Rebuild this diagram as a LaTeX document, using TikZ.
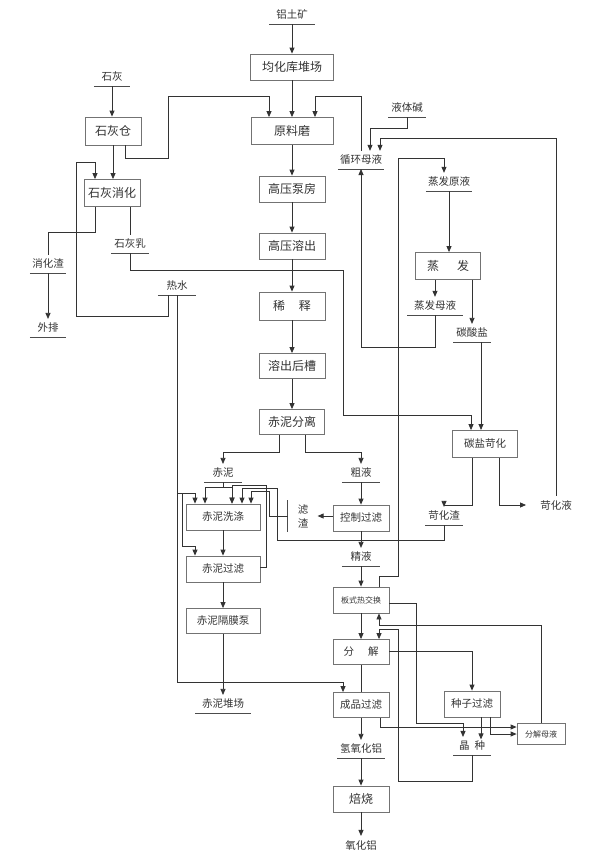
\documentclass[tikz,border=0pt]{standalone}
\usepackage{fontspec}
\setmainfont{Noto Sans CJK SC}
\usetikzlibrary{arrows.meta}

\begin{document}
\begin{tikzpicture}[x=1pt,y=-1pt,
  box/.style={draw=black!55, line width=0.8pt, minimum height=26pt, inner sep=0pt,
    font=\fontsize{12}{12}\selectfont, text=black!80},
  sbox/.style={box, font=\fontsize{10.5}{10.5}\selectfont},
  tbox/.style={box, font=\fontsize{8}{8}\selectfont},
  lbl/.style={anchor=south, inner xsep=2pt, inner ysep=4pt,
    font=\fontsize{10.5}{10.5}\selectfont, text=black!80},
  uline/.style={draw=black!70, line width=0.8pt},
  line/.style={draw=black!80, line width=0.8pt},
  arr/.style={line, -{Triangle[length=6pt,width=5pt]}}]

\useasboundingbox (0,0) rectangle (600,854);

% main column
\node[lbl, minimum width=45pt] (bauxite) at (292,24) {铝土矿};
\node[box, minimum width=83pt] (homo) at (292,67) {均化库堆场};
\node[box, minimum width=82pt, minimum height=27pt] (mill) at (292,131) {原料磨};
\node[box, minimum width=66pt] (pump) at (292,189) {高压泵房};
\node[box, minimum width=66pt] (digest) at (292,246) {高压溶出};
\node[box, minimum width=66pt, minimum height=28pt] (dilute) at (292,306) {稀\hspace{14pt}释};
\node[box, minimum width=66pt, minimum height=25pt] (tank) at (292,366) {溶出后槽};
\node[box, minimum width=65pt, minimum height=25pt] (sep) at (292,422) {赤泥分离};

% lime
\node[lbl, minimum width=36pt] (lime) at (112,86) {石灰};
\node[box, minimum width=56pt, minimum height=28pt] (limebin) at (113,131) {石灰仓};
\node[box, minimum width=56pt, minimum height=27pt] (slaker) at (112,193) {石灰消化};
\node[lbl, minimum width=36pt] (slag) at (48,273) {消化渣};
\node[lbl, minimum width=36pt] (waste) at (48,337) {外排};
\node[lbl, minimum width=37pt] (limemilk) at (130,253) {石灰乳};
\node[lbl, minimum width=38pt] (hotwater) at (177,295) {热水};

% evaporation
\node[lbl, minimum width=37pt] (liqsoda) at (407,117) {液体碱};
\node[lbl, minimum width=45pt] (circ) at (361,169) {循环母液};
\node[lbl, minimum width=46pt] (evapfeed) at (449,191) {蒸发原液};
\node[box, minimum width=65pt, minimum height=27pt] (evap) at (448,266) {蒸\hspace{18pt}发};
\node[lbl, minimum width=55pt] (evapmother) at (435,315) {蒸发母液};
\node[lbl, minimum width=37pt] (carbonate) at (472,342) {碳酸盐};
\node[sbox, minimum width=65pt, minimum height=27pt] (caust) at (485,444) {碳盐苛化};
\node[lbl, minimum width=37pt] (causres) at (444,525) {苛化渣};
\node[lbl, anchor=center, inner xsep=14pt] (causliq) at (556,505) {苛化液};

% red mud
\node[lbl, minimum width=37pt] (redmud) at (223,482) {赤泥};
\node[lbl, minimum width=38pt] (crude) at (361,482) {粗液};
\node[sbox, minimum width=74pt] (wash) at (223,517) {赤泥洗涤};
\node[sbox, minimum width=74pt] (mudfilt) at (223,569) {赤泥过滤};
\node[sbox, minimum width=74pt, minimum height=25pt] (diaph) at (223,621) {赤泥隔膜泵};
\node[lbl, minimum width=55pt] (mudyard) at (223,713) {赤泥堆场};
\node[sbox, minimum width=56pt] (ctrl) at (361,518) {控制过滤};
\node[lbl, anchor=center, minimum width=30pt, minimum height=22pt, align=center,
  font=\fontsize{10.5}{14}\selectfont] (filtres) at (303,516) {滤\\渣};
\node[lbl, minimum width=38pt] (fine) at (361,566) {精液};

% decomposition
\node[tbox, minimum width=56pt] (phe) at (361,600) {板式热交换};
\node[sbox, minimum width=56pt, minimum height=25pt] (decomp) at (361,652) {分\hspace{14pt}解};
\node[sbox, minimum width=56pt, minimum height=25pt] (prodfilt) at (361,705) {成品过滤};
\node[lbl, minimum width=47pt] (hydrate) at (361,758) {氢氧化铝};
\node[box, minimum width=56pt] (calcine) at (361,799) {焙烧};
\node[lbl, anchor=center] (alumina) at (361,845) {氧化铝};
\node[sbox, minimum width=56pt] (seedfilt) at (472,704) {种子过滤};
\node[lbl, minimum width=37pt] (seed) at (472,755) {晶\hspace{5pt}种};
\node[tbox, minimum width=48pt, minimum height=21pt] (spent) at (541,734) {分解母液};

\foreach \n in {bauxite, lime, slag, waste, limemilk, hotwater, liqsoda, circ, evapfeed,
  evapmother, carbonate, causres, redmud, crude, fine, mudyard, hydrate, seed}
  \draw[uline] (\n.south west) -- (\n.south east);
\draw[uline] (filtres.north west) -- (filtres.south west);

% main flow
\foreach \a/\b in {bauxite/homo, homo/mill, mill/pump, pump/digest, digest/dilute, dilute/tank, tank/sep}
  \draw[arr] (\a.south) -- (\b.north);

% lime lines
\draw[arr] (lime.south) -- (lime.south |- limebin.north);
\draw[arr] (limebin.south) -- (limebin.south |- slaker.north);
\draw[arr] ([xshift=12pt]limebin.south) -- ++(0,13) -| (168,96) -| ([xshift=-23pt]mill.north);
\draw[line] ([xshift=18pt]slaker.south) -- (limemilk.north);
\draw[line] ([xshift=-17pt]slaker.south) -- ++(0,25) -| (slag.north);
\draw[arr] (slag.south) -- (waste.north);
\draw[arr] ([xshift=-9pt]hotwater.south) -- ++(0,21) -| (76,162) -| ([xshift=-17pt]slaker.north);
\draw[arr] (limemilk.south) -- ++(0,17) -| (343,415) -| ([xshift=-14pt]caust.north);

% hot water
\coordinate (hwa) at (177,493);
\coordinate (hwb) at (182,493);
\draw[arr] (hotwater.south) -- ++(0,387) -| ([xshift=-18pt]prodfilt.north);
\draw[arr] (hwa) -| ([xshift=-28pt]wash.north);
\draw[arr] (hwb) -- ++(0,53) -| ([xshift=-28pt]mudfilt.north);

% red mud washing
\draw[arr] ([xshift=-13pt]sep.south) -- ++(0,17) -| (redmud.north);
\draw[arr] ([xshift=13pt]sep.south) -- ++(0,17) -| (crude.north);
\draw[arr] (redmud.south) -- ++(0,5) -| ([xshift=-18pt]wash.north);
\draw[arr] (redmud.south) -- ++(0,5) -| ([xshift=9pt]wash.north);
\draw[arr] ([yshift=2pt]mudfilt.east) -- ++(6,0) |- ([xshift=9pt]wash.north |- 0,485) -- ([xshift=9pt]wash.north);
\draw[arr] (causres.south) -- ++(0,15) -| (277,488) -| ([xshift=19pt]wash.north);
\draw[arr] (filtres.west) -- ++(-18,0) |- ([xshift=28pt]wash.north |- 0,491) -- ([xshift=28pt]wash.north);
\draw[arr] ([yshift=2pt]ctrl.west) -- ++(-15,0);
\draw[arr] (crude.south) -- (ctrl.north);
\draw[arr] (ctrl.south) -- (fine.north);
\draw[arr] (fine.south) -- (phe.north);
\draw[arr] (wash.south) -- (mudfilt.north);
\draw[arr] (mudfilt.south) -- (diaph.north);
\draw[arr] (diaph.south) -- (mudyard.north);

% liquor circuit
\draw[arr] (liqsoda.south) -- ++(0,11) -| ([xshift=9pt]circ.north);
\draw[arr] (circ.north) -- (circ.north |- 0,96) -| ([xshift=23pt]mill.north);
\draw[arr] (causliq.north) -- (causliq.north |- 0,138) -| ([xshift=19pt]circ.north);
\draw[arr] (evapmother.south) -- ++(0,32) -| (circ.south);
\draw[arr] ([xshift=18pt]phe.north) -- ++(0,-10) -| (398,158) -| ([xshift=-5pt]evapfeed.north);
\draw[arr] (evapfeed.south) -- (evapfeed.south |- evap.north);
\draw[arr] (evap.south -| evapmother.north) -- (evapmother.north);
\draw[arr] (evap.south -| carbonate.north) -- (carbonate.north);
\draw[arr] ([xshift=9pt]carbonate.south) -- ++(0,88);
\draw[arr] ([xshift=-13pt]caust.south) -- ++(0,47) -| (causres.north);
\draw[arr] ([xshift=14pt]caust.south) |- (causliq.west);

% decomposition lines
\draw[arr] (phe.south) -- (decomp.north);
\draw[arr] (spent.north) -- (spent.north |- 0,625) -| ([xshift=18pt]phe.south);
\draw[arr] (seed.south) -- ++(0,26) -| (398,629) -| ([xshift=18pt]decomp.north);
\draw[arr] ([yshift=1pt]decomp.east) -| (seedfilt.north);
\draw[line] (decomp.south) -- (prodfilt.north);
\draw[arr] (prodfilt.south) -- (hydrate.north);
\draw[arr] (hydrate.south) -- (calcine.north);
\draw[arr] (calcine.south) -- (alumina.north);
\draw[arr] ([yshift=-3pt]phe.east) -| (416,723) -| ([xshift=-9pt]seed.north);
\draw[arr] ([xshift=19pt]prodfilt.south) |- ([yshift=7pt]spent.west);
\draw[arr] ([xshift=9pt]seedfilt.south) -- ++(0,22);
\draw[arr] ([xshift=18pt]seedfilt.south) |- (spent.west);
\end{tikzpicture}
\end{document}
